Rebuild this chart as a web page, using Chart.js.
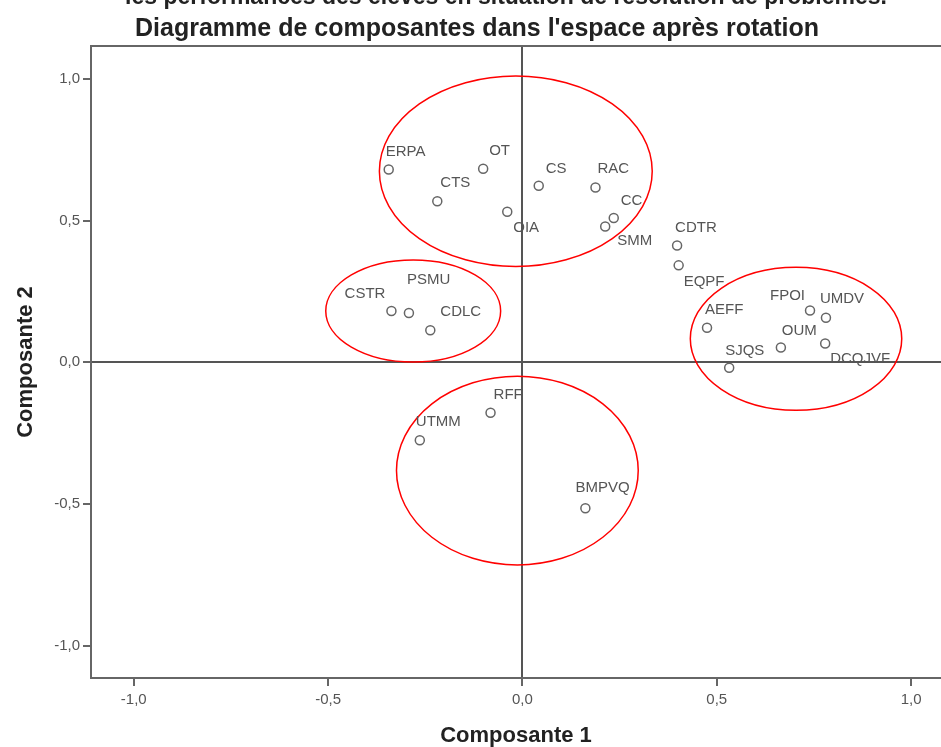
<!DOCTYPE html>
<html>
<head>
<meta charset="utf-8">
<script src="https://cdn.jsdelivr.net/npm/chart.js@4/dist/chart.umd.min.js"></script>
<style>
  body { margin: 0; background: #fff; }
</style>
</head>
<body>
<canvas id="chart" width="941" height="747"></canvas>
<script>
// variables du diagramme de composantes (SPSS)
const variables = ["ERPA", "OT", "CTS", "OIA", "CS", "RAC", "CC", "SMM",
  "CSTR", "PSMU", "CDLC",
  "CDTR", "EQPF", "AEFF", "FPOI", "UMDV", "OUM", "DCQJVF", "SJQS",
  "RFF", "UTMM", "BMPVQ"];
const composante1 = [-0.344, -0.101, -0.219, -0.039, 0.042, 0.188, 0.235, 0.213,
  -0.337, -0.292, -0.237,
  0.398, 0.402, 0.475, 0.740, 0.781, 0.665, 0.779, 0.532,
  -0.082, -0.264, 0.162];
const composante2 = [0.680, 0.683, 0.568, 0.531, 0.623, 0.617, 0.509, 0.479,
  0.181, 0.174, 0.113,
  0.412, 0.342, 0.122, 0.183, 0.157, 0.052, 0.066, -0.019,
  -0.178, -0.275, -0.515];
const tickValues = [-1.0, -0.5, 0.0, 0.5, 1.0];

// groupes entourés en rouge : centre et rayons en unités des axes
const groupCx = [-0.017, -0.281, 0.704, -0.013];
const groupCy = [0.674, 0.181, 0.083, -0.382];
const groupRx = [0.351, 0.225, 0.272, 0.311];
const groupRy = [0.336, 0.180, 0.252, 0.333];

const titleLines = [
  "les performances des élèves en situation de résolution de problèmes.",
  "Diagramme de composantes dans l'espace après rotation"
];

// décalage des étiquettes par rapport au point (pixels) : [dx, dy, align]
const labelOffsets = [[-3, -18], [6, -18], [3, -18], [6, 16], [7, -17], [2, -19], [7, -17], [12, 14],
  [-6, -17, "right"], [-2, -33], [10, -18],
  [-2, -18], [5, 17], [-2, -18], [-5, -15, "right"], [-6, -19], [1, -17], [5, 15], [-4, -17],
  [3, -18], [-4, -18], [-10, -20]];

const points = variables.map((v, i) => ({ x: composante1[i], y: composante2[i] }));

const fmt = (v) => v.toFixed(1).replace(".", ",");

const framePlugin = {
  id: "frame",
  beforeDatasetsDraw(chart) {
    const { ctx, chartArea, scales } = chart;
    const sx = scales.x, sy = scales.y;
    ctx.save();
    // ligne du haut
    ctx.strokeStyle = "#666";
    ctx.lineWidth = 2;
    ctx.beginPath();
    ctx.moveTo(chartArea.left, chartArea.top);
    ctx.lineTo(chartArea.right + 5, chartArea.top);
    ctx.stroke();
    // ellipses rouges
    ctx.beginPath();
    ctx.rect(chartArea.left, chartArea.top, chartArea.right - chartArea.left, chartArea.bottom - chartArea.top);
    ctx.clip();
    ctx.strokeStyle = "#ff0000";
    ctx.lineWidth = 1.5;
    groupCx.forEach((cx, i) => {
      const px = sx.getPixelForValue(cx);
      const py = sy.getPixelForValue(groupCy[i]);
      const rx = Math.abs(sx.getPixelForValue(cx + groupRx[i]) - px);
      const ry = Math.abs(sy.getPixelForValue(groupCy[i] + groupRy[i]) - py);
      ctx.beginPath();
      ctx.ellipse(px, py, rx, ry, 0, 0, Math.PI * 2);
      ctx.stroke();
    });
    ctx.restore();
  },
  afterDatasetsDraw(chart) {
    const { ctx } = chart;
    const meta = chart.getDatasetMeta(0);
    ctx.save();
    ctx.font = "15px 'Liberation Sans', Arial, sans-serif";
    ctx.fillStyle = "#555";
    ctx.textBaseline = "middle";
    meta.data.forEach((el, i) => {
      const off = labelOffsets[i];
      ctx.textAlign = off[2] || "left";
      ctx.fillText(variables[i], el.x + off[0], el.y + off[1]);
    });
    ctx.restore();
  },
  afterDraw(chart) {
    const { ctx } = chart;
    ctx.save();
    ctx.fillStyle = "#222";
    ctx.textAlign = "center";
    ctx.textBaseline = "alphabetic";
    ctx.font = "bold 23px 'Liberation Sans', Arial, sans-serif";
    ctx.fillText(titleLines[0], 506, 4);
    ctx.font = "bold 25px 'Liberation Sans', Arial, sans-serif";
    ctx.fillText(titleLines[1], 477, 36);
    ctx.restore();
  }
};

const zeroColor = (c) => (c.tick && c.tick.value === 0 ? "#555" : "rgba(0,0,0,0)");

new Chart(document.getElementById("chart"), {
  type: "scatter",
  data: {
    datasets: [{
      data: points,
      pointStyle: "circle",
      pointRadius: 4.5,
      pointHoverRadius: 4.5,
      pointBackgroundColor: "rgba(255,255,255,0)",
      pointBorderColor: "#666",
      pointBorderWidth: 1.5
    }]
  },
  options: {
    responsive: false,
    animation: false,
    devicePixelRatio: 1,
    layout: { autoPadding: false, padding: { top: 46, left: 0, right: 0, bottom: 0 } },
    plugins: {
      legend: { display: false },
      tooltip: { enabled: false },
      title: { display: false }
    },
    scales: {
      x: {
        type: "linear",
        min: -1.11,
        max: 1.077,
        afterFit: (s) => { s.height = 69; s.paddingLeft = 0; s.paddingRight = 0; },
        afterBuildTicks: (s) => { s.ticks = tickValues.map((v) => ({ value: v })); },
        ticks: {
          includeBounds: false,
          padding: 5,
          color: "#555",
          font: { family: "'Liberation Sans', Arial, sans-serif", size: 15 },
          callback: fmt
        },
        grid: {
          color: zeroColor,
          lineWidth: 2,
          tickColor: "#666",
          tickWidth: 2,
          tickLength: 8
        },
        border: { display: true, color: "#666", width: 2 },
        title: {
          display: true,
          text: "Composante 1",
          color: "#222",
          font: { family: "'Liberation Sans', Arial, sans-serif", size: 22, weight: "bold", lineHeight: 1 },
          padding: { top: 0, bottom: 0 }
        }
      },
      y: {
        type: "linear",
        min: -1.114,
        max: 1.116,
        afterFit: (s) => { s.width = 91; s.paddingTop = 0; s.paddingBottom = 0; },
        afterBuildTicks: (s) => { s.ticks = tickValues.map((v) => ({ value: v })); },
        ticks: {
          includeBounds: false,
          padding: 3,
          color: "#555",
          font: { family: "'Liberation Sans', Arial, sans-serif", size: 15 },
          callback: fmt
        },
        grid: {
          color: zeroColor,
          lineWidth: 2,
          tickColor: "#666",
          tickWidth: 2,
          tickLength: 8
        },
        border: { display: true, color: "#666", width: 2 },
        title: {
          display: true,
          text: "Composante 2",
          color: "#222",
          font: { family: "'Liberation Sans', Arial, sans-serif", size: 22, weight: "bold", lineHeight: 1 },
          padding: { top: 15, bottom: 0 }
        }
      }
    }
  },
  plugins: [framePlugin]
});
</script>
</body>
</html>
